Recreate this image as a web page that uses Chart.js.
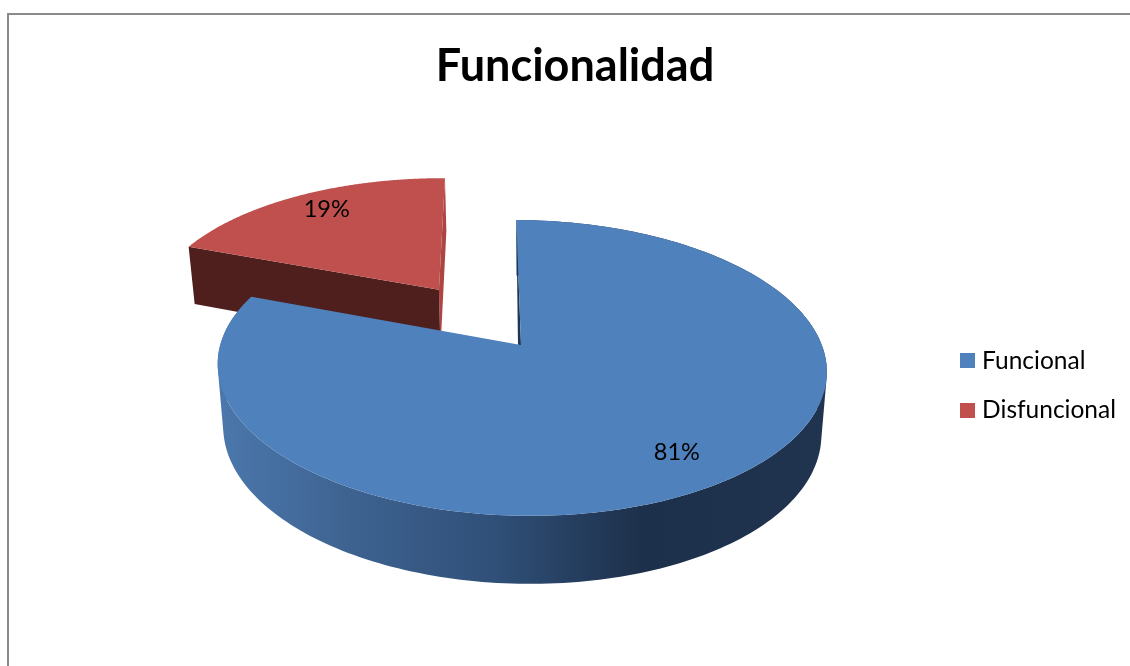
<!DOCTYPE html>
<html><head><meta charset="utf-8">
<style>html,body{margin:0;padding:0;background:#fff}canvas{display:block}</style>
<script src="https://cdn.jsdelivr.net/npm/chart.js@4"></script>
</head><body><canvas id="c" width="1130" height="666"></canvas>
<script>
const categories = ["Funcional", "Disfuncional"];
const values = [80.6, 19.4];
const explode = [0, 0.494];
const topColors = ["#4f81bd", "#c0504d"];
const title = "Funcionalidad";

// perspective of the tilted pie plane
const P = {cx:521, R:300.8, k:-8, a:-90.9, b:345, c:0.155, d0:61.8, d1:-6.2, shrink:0.982, scx:523,
           labelFraction:[0.82,0.84], labelDx:[-6,7], labelDy:[-2,0]};
function proj(u,v){const w=1+P.c*v;return [P.cx+(P.R*u+P.k*v)/w,(P.a*v+P.b)/w];}
function low(u,v){const p=proj(u,v);return [P.scx+(p[0]-P.scx)*P.shrink,p[1]+P.d0+P.d1*v];}
function arcPts(el,off,f){
  const n=240,out=[];
  for(let i=0;i<=n;i++){
    const t=el.startAngle+(el.endAngle-el.startAngle)*i/n;
    out.push(f(off[0]+Math.cos(t),off[1]-Math.sin(t)));
  }
  return out;
}
function tracePoly(ctx,pts){
  pts.forEach((p,i)=>i?ctx.lineTo(p[0],p[1]):ctx.moveTo(p[0],p[1]));
  ctx.closePath();
}
function fillPoly(ctx,pts,color){
  ctx.beginPath();tracePoly(ctx,pts);ctx.fillStyle=color;ctx.fill();
}
function area(q){
  let a=0;
  q.forEach((p,i)=>{const n=q[(i+1)%q.length];a+=p[0]*n[1]-n[0]*p[1];});
  return a;
}
function swatch(color){
  const c=document.createElement('canvas');c.width=15;c.height=15;
  const x=c.getContext('2d');x.fillStyle=color;x.fillRect(0,0,15,15);return c;
}
const pie3d = {
  id:'pie3d',
  beforeDraw(chart){
    const ctx=chart.ctx;ctx.save();
    ctx.strokeStyle='#8a8a8a';ctx.lineWidth=2;
    ctx.beginPath();ctx.moveTo(8,666);ctx.lineTo(8,14);ctx.lineTo(1130,14);ctx.stroke();
    ctx.restore();
  },
  beforeDatasetsDraw(chart){
    const ctx=chart.ctx, els=chart.getDatasetMeta(0).data;
    const geo=els.map((el,i)=>{
      const mid=(el.startAngle+el.endAngle)/2;
      const off=[explode[i]*Math.cos(mid),-explode[i]*Math.sin(mid)];
      return {el,off,mid};
    });
    ctx.save();
    // red: side faces
    {
      const g=geo[1], el=g.el, o=g.off;
      const s=[o[0]+Math.cos(el.startAngle),o[1]-Math.sin(el.startAngle)];
      const e=[o[0]+Math.cos(el.endAngle),o[1]-Math.sin(el.endAngle)];
      fillPoly(ctx,[proj(o[0],o[1]),proj(e[0],e[1]),low(e[0],e[1]),low(o[0],o[1])],'#ad4643');
      fillPoly(ctx,[proj(s[0],s[1]),proj(o[0],o[1]),low(o[0],o[1]),low(s[0],s[1])],'#4f1f1e');
    }
    // blue: rim and inner wall
    {
      const g=geo[0], el=g.el, o=g.off;
      const grad=ctx.createLinearGradient(222,0,822,0);
      grad.addColorStop(0,'#4b77ac');grad.addColorStop(0.21,'#3e6391');
      grad.addColorStop(0.46,'#2f4f77');grad.addColorStop(0.7,'#1d304b');grad.addColorStop(1,'#20344f');
      const t=arcPts(el,o,proj), b=arcPts(el,o,low);
      ctx.beginPath();
      for(let i=0;i<t.length-1;i++){
        const q=[t[i],t[i+1],b[i+1],b[i]];
        if(area(q)<0) q.reverse();
        tracePoly(ctx,q);
      }
      ctx.fillStyle=grad;ctx.fill('nonzero');
      const s=proj(o[0]+Math.cos(el.startAngle),o[1]-Math.sin(el.startAngle));
      const c=proj(o[0],o[1]);
      fillPoly(ctx,[s,c,[c[0]-3,c[1]+1]],'#1f3550');
    }
    // tops
    [1,0].forEach(i=>{
      const g=geo[i];
      fillPoly(ctx,[proj(g.off[0],g.off[1])].concat(arcPts(g.el,g.off,proj)),topColors[i]);
    });
    // percentage labels
    const total=values.reduce((a,b)=>a+b,0);
    ctx.fillStyle='#000';ctx.font='23.5px Lato';ctx.textAlign='center';ctx.textBaseline='middle';
    geo.forEach((g,i)=>{
      const f=P.labelFraction[i];
      const p=proj(g.off[0]+f*Math.cos(g.mid),g.off[1]-f*Math.sin(g.mid));
      ctx.fillText(Math.round(values[i]/total*100)+'%',p[0]+P.labelDx[i],p[1]+P.labelDy[i]);
    });
    ctx.restore();
    return false;
  }
};
new Chart(document.getElementById('c'),{
  type:'pie',
  plugins:[pie3d],
  data:{labels:categories,datasets:[{data:values,backgroundColor:topColors,borderWidth:0}]},
  options:{
    responsive:false,animation:false,rotation:0.5,
    layout:{padding:{left:24,right:4,top:0,bottom:0}},
    plugins:{
      tooltip:{enabled:false},
      title:{display:true,text:title,color:'#000',font:{family:'Lato',size:45,weight:'bold'},padding:{top:39,bottom:12}},
      legend:{position:'right',fullSize:false,labels:{
        color:'#000',font:{family:'Lato',size:24.5},boxWidth:15,boxHeight:15,padding:25,
        usePointStyle:true,pointStyleWidth:5,
        generateLabels(chart){
          return categories.map((t,i)=>({text:t,index:i,fillStyle:topColors[i],strokeStyle:topColors[i],lineWidth:0,hidden:false,pointStyle:swatch(topColors[i]),fontColor:'#000'}));
        }
      }}
    }
  }
});
</script></body></html>
